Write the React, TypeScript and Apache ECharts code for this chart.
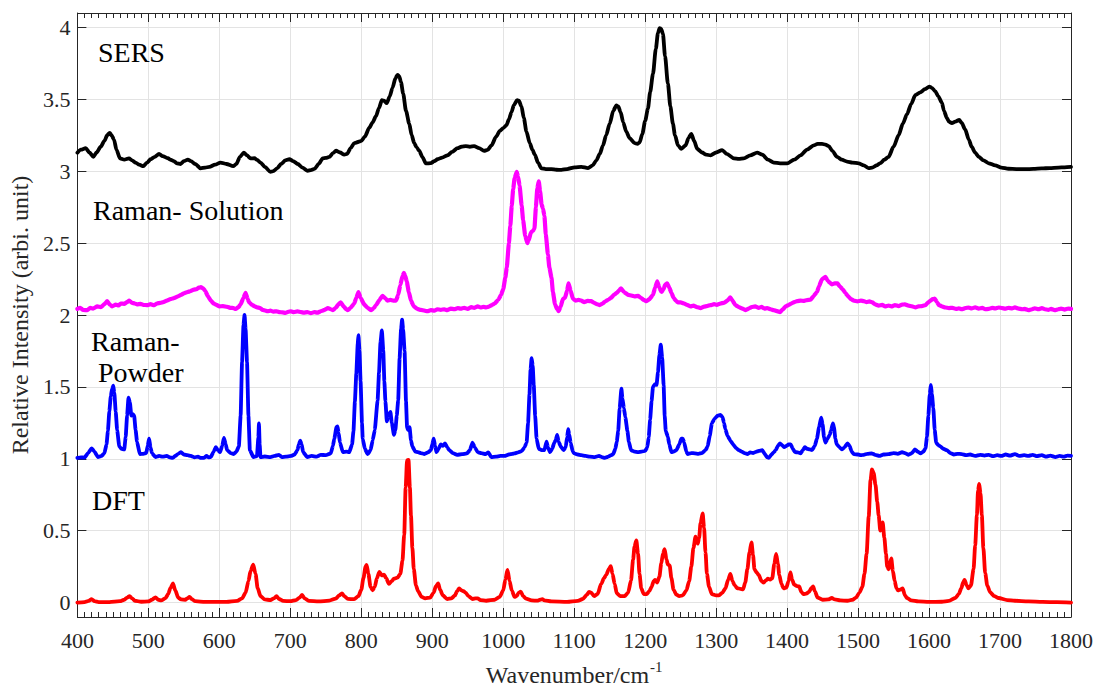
import React, { useEffect, useRef } from "react";
import * as echarts from "echarts";

// ---------- data (wavenumber, relative intensity) ----------
const sersPoints: [number, number][] = [
  [400,3.129],[405,3.15],[411.7,3.16],[417,3.13],[422.5,3.10],[427,3.13],[432.8,3.17],[438,3.21],[442,3.25],[445.5,3.267],[448,3.25],[451.6,3.22],[455,3.15],[460,3.089],[466,3.08],[472.7,3.089],[477,3.075],[482,3.06],[487,3.045],[492.9,3.035],[498,3.06],[503.2,3.083],[509,3.1],[515,3.12],[520,3.105],[527.6,3.09],[531,3.08],[536,3.07],[540,3.055],[545.4,3.05],[550,3.07],[555.7,3.08],[560,3.07],[566,3.05],[573.5,3.02],[580,3.025],[586,3.03],[594,3.045],[601.7,3.06],[610,3.05],[619.5,3.035],[624,3.05],[629,3.1],[634.5,3.129],[639,3.11],[644,3.089],[649.5,3.09],[653.3,3.078],[658,3.06],[664,3.03],[672,2.995],[676,3.0],[681.4,3.02],[687,3.05],[693,3.075],[698.7,3.083],[704,3.07],[710.5,3.05],[717,3.025],[724.5,3.003],[729,3.008],[734,3.016],[740,3.05],[745.6,3.089],[750,3.092],[755,3.10],[760,3.125],[764.4,3.142],[770,3.13],[776,3.115],[780,3.12],[785,3.16],[790,3.195],[799.6,3.209],[805,3.24],[811.3,3.302],[816,3.34],[820.7,3.382],[825,3.44],[829,3.494],[832,3.49],[836,3.473],[840,3.52],[844,3.58],[848,3.645],[851,3.67],[853.5,3.66],[855.9,3.62],[859,3.54],[863,3.42],[867.6,3.33],[871,3.25],[874.6,3.195],[878,3.165],[881.6,3.142],[886,3.1],[891,3.054],[898,3.056],[903,3.07],[907.4,3.083],[914,3.095],[921.5,3.11],[928,3.135],[935.6,3.16],[941,3.17],[947.3,3.174],[953,3.17],[959,3.174],[966,3.16],[973,3.142],[978,3.148],[983.5,3.18],[990,3.24],[995.2,3.28],[1000,3.3],[1004.6,3.32],[1008,3.36],[1011.6,3.41],[1015,3.46],[1019.6,3.494],[1022,3.49],[1025.7,3.45],[1029,3.37],[1032.7,3.275],[1037.4,3.195],[1041,3.15],[1044.5,3.115],[1049,3.06],[1053.8,3.02],[1060,3.015],[1067.9,3.014],[1075,3.01],[1082,3.009],[1090,3.015],[1100.7,3.027],[1110,3.03],[1119.5,3.022],[1126,3.04],[1131.2,3.075],[1136,3.12],[1140.6,3.18],[1145,3.25],[1150,3.33],[1155,3.42],[1159.4,3.457],[1162,3.45],[1165.5,3.41],[1169,3.34],[1173.4,3.275],[1178,3.23],[1185.2,3.195],[1189,3.19],[1192.2,3.20],[1196,3.26],[1200,3.35],[1203.9,3.435],[1207,3.55],[1211,3.676],[1215,3.85],[1218,3.96],[1220.3,3.995],[1222.5,3.99],[1225,3.956],[1228,3.8],[1232,3.61],[1235.5,3.45],[1239.1,3.33],[1242,3.25],[1246.2,3.18],[1251,3.155],[1257,3.18],[1261,3.23],[1265,3.26],[1269,3.21],[1273.4,3.155],[1280,3.13],[1286,3.115],[1292.1,3.11],[1300,3.13],[1308.5,3.147],[1315,3.12],[1325,3.089],[1332,3.085],[1339,3.089],[1348,3.11],[1357.8,3.129],[1365,3.115],[1373,3.08],[1381.2,3.06],[1390,3.055],[1400,3.054],[1410,3.08],[1418.8,3.11],[1428,3.15],[1437.5,3.18],[1443,3.19],[1449.2,3.19],[1454,3.185],[1458.6,3.174],[1464,3.14],[1470.3,3.10],[1477,3.08],[1484.4,3.067],[1492,3.06],[1500.8,3.054],[1508,3.04],[1514.9,3.022],[1520,3.025],[1526,3.04],[1531.3,3.056],[1537,3.08],[1543,3.10],[1550,3.17],[1557.1,3.25],[1563,3.33],[1568.9,3.396],[1575,3.47],[1580.6,3.529],[1587.6,3.548],[1594,3.57],[1600.3,3.588],[1604,3.58],[1608.7,3.556],[1613,3.52],[1618.1,3.476],[1621,3.42],[1625.1,3.37],[1628,3.345],[1632.2,3.334],[1637,3.345],[1642.5,3.356],[1646,3.335],[1650.9,3.29],[1656,3.22],[1660,3.17],[1665,3.129],[1670,3.1],[1676.7,3.075],[1684,3.055],[1693.2,3.04],[1702,3.025],[1711.9,3.017],[1723,3.015],[1735.4,3.014],[1747,3.016],[1758.8,3.019],[1770,3.022],[1782.3,3.025],[1791,3.027],[1800,3.03],
];

const solutionPoints: [number, number][] = [
  [400,2.042],[404,2.05],[408,2.035],[414,2.034],[418,2.05],[422,2.045],[428,2.06],[433,2.055],[438,2.075],[442,2.096],[446,2.07],[449,2.06],[454,2.072],[458,2.066],[461,2.08],[466,2.078],[470,2.09],[473,2.1],[477,2.085],[481,2.08],[484,2.074],[489,2.078],[493,2.07],[498,2.069],[503,2.075],[508,2.068],[512,2.08],[517,2.085],[521,2.09],[526,2.1],[531,2.11],[536,2.118],[541,2.128],[546,2.14],[550,2.15],[555,2.16],[559,2.165],[564,2.176],[568,2.18],[571,2.19],[574,2.194],[577,2.185],[580,2.168],[584,2.13],[588,2.1],[592,2.08],[596,2.07],[600,2.06],[605,2.062],[611,2.056],[616,2.05],[620,2.048],[623,2.042],[627,2.055],[630,2.074],[634,2.12],[637,2.154],[640,2.11],[642,2.088],[646,2.07],[650,2.06],[653,2.053],[657,2.05],[661,2.035],[665,2.03],[668,2.026],[672,2.03],[676,2.024],[681,2.026],[685,2.02],[689,2.018],[693,2.015],[697,2.022],[701,2.026],[705,2.02],[710,2.025],[715,2.02],[719,2.016],[724,2.02],[729,2.013],[734,2.02],[738,2.016],[743,2.026],[748,2.035],[753,2.048],[757,2.04],[760,2.034],[764,2.05],[768,2.075],[771,2.088],[775,2.06],[779,2.04],[781,2.034],[785,2.05],[790,2.08],[793,2.12],[796,2.16],[799,2.12],[804,2.074],[809,2.05],[814,2.034],[818,2.05],[821,2.069],[825,2.1],[830,2.133],[834,2.115],[837,2.1],[841,2.105],[845,2.1],[849,2.1],[852,2.14],[855,2.208],[858,2.27],[860,2.293],[862,2.27],[864,2.234],[867,2.16],[870,2.1],[874,2.06],[879,2.042],[884,2.035],[889,2.03],[893,2.026],[898,2.034],[903,2.03],[907,2.04],[912,2.036],[917,2.04],[921,2.034],[926,2.045],[931,2.04],[936,2.048],[940,2.044],[945,2.05],[950,2.042],[955,2.055],[959,2.05],[964,2.06],[968,2.052],[972,2.056],[976,2.053],[980,2.058],[984,2.069],[988,2.08],[993,2.106],[997,2.14],[1000,2.18],[1003,2.26],[1005,2.33],[1008,2.5],[1010,2.62],[1012,2.76],[1014,2.875],[1016,2.95],[1019,2.995],[1021,2.96],[1023,2.9],[1026,2.76],[1028,2.66],[1031,2.55],[1034,2.5],[1036,2.52],[1039,2.575],[1042,2.585],[1044,2.6],[1046,2.75],[1048,2.88],[1050,2.93],[1052,2.86],[1054,2.77],[1056,2.74],[1058,2.69],[1060,2.56],[1063,2.42],[1065,2.33],[1068,2.26],[1070,2.16],[1073,2.074],[1076,2.04],[1078,2.026],[1081,2.06],[1084,2.11],[1087,2.12],[1090,2.17],[1092,2.22],[1095,2.17],[1098,2.114],[1102,2.1],[1106,2.105],[1110,2.1],[1114,2.09],[1119,2.098],[1124,2.096],[1128,2.085],[1132,2.075],[1136,2.069],[1140,2.08],[1144,2.095],[1148,2.106],[1152,2.12],[1156,2.14],[1160,2.154],[1163,2.17],[1166,2.186],[1170,2.16],[1173,2.15],[1176,2.14],[1181,2.135],[1185,2.13],[1190,2.133],[1194,2.12],[1198,2.105],[1202,2.096],[1206,2.11],[1211,2.14],[1214,2.19],[1217,2.234],[1220,2.19],[1223,2.16],[1226,2.18],[1228,2.21],[1231,2.22],[1234,2.19],[1237,2.154],[1240,2.12],[1243,2.1],[1246,2.088],[1250,2.088],[1255,2.08],[1259,2.07],[1264,2.06],[1268,2.066],[1273,2.055],[1278,2.048],[1283,2.058],[1287,2.062],[1292,2.069],[1297,2.075],[1301,2.07],[1306,2.08],[1311,2.085],[1316,2.1],[1320,2.122],[1323,2.1],[1327,2.069],[1332,2.055],[1337,2.045],[1341,2.034],[1346,2.045],[1350,2.055],[1355,2.06],[1360,2.05],[1364,2.056],[1368,2.045],[1372,2.048],[1377,2.04],[1381,2.034],[1385,2.028],[1390,2.02],[1394,2.04],[1398,2.06],[1402,2.069],[1406,2.08],[1410,2.09],[1414,2.096],[1419,2.1],[1423,2.098],[1428,2.104],[1433,2.106],[1437,2.13],[1442,2.16],[1445,2.2],[1449,2.248],[1454,2.266],[1457,2.24],[1460,2.225],[1463,2.213],[1467,2.22],[1471,2.22],[1474,2.2],[1478,2.18],[1482,2.154],[1486,2.13],[1490,2.11],[1494,2.1],[1499,2.095],[1504,2.1],[1508,2.096],[1512,2.09],[1516,2.095],[1520,2.088],[1524,2.074],[1529,2.065],[1534,2.07],[1538,2.06],[1543,2.066],[1548,2.06],[1552,2.069],[1557,2.062],[1562,2.072],[1566,2.074],[1571,2.065],[1576,2.06],[1581,2.053],[1585,2.06],[1590,2.062],[1595,2.069],[1598,2.085],[1602,2.1],[1605,2.11],[1608,2.114],[1611,2.09],[1614,2.069],[1618,2.06],[1623,2.052],[1628,2.048],[1633,2.05],[1638,2.042],[1642,2.046],[1646,2.04],[1651,2.048],[1656,2.052],[1660,2.046],[1665,2.053],[1670,2.045],[1675,2.05],[1679,2.04],[1684,2.042],[1689,2.05],[1693,2.046],[1698,2.052],[1703,2.048],[1707,2.044],[1712,2.05],[1717,2.046],[1721,2.053],[1726,2.045],[1731,2.04],[1735,2.042],[1740,2.034],[1745,2.04],[1749,2.046],[1754,2.04],[1759,2.048],[1763,2.04],[1768,2.036],[1772,2.042],[1777,2.034],[1782,2.04],[1786,2.045],[1791,2.038],[1796,2.044],[1800,2.042],
];

const powderPoints: [number, number][] = [
  [400,1.006],[405,1.01],[410,1.008],[415,1.04],[420,1.073],[424,1.05],[429,1.012],[434,1.02],[438,1.038],[441,1.1],[443,1.193],[445,1.33],[447,1.434],[449,1.49],[450.5,1.508],[452,1.46],[454,1.327],[456,1.2],[459,1.086],[462,1.07],[466,1.065],[468,1.15],[470,1.3],[472,1.426],[474,1.39],[476,1.3],[478,1.31],[480,1.3],[482,1.2],[484,1.12],[488,1.033],[493,1.035],[497,1.04],[499,1.09],[501,1.14],[503,1.08],[505,1.04],[510,1.012],[515,1.02],[520,1.015],[526,1.02],[530,1.01],[534,1.006],[538,1.02],[542,1.035],[546,1.046],[550,1.03],[555,1.025],[560,1.02],[565,1.01],[570,1.015],[574,1.006],[578,1.006],[582,1.02],[585,1.01],[588,1.012],[592,1.05],[595,1.081],[598,1.06],[601,1.046],[604,1.09],[606.5,1.145],[609,1.1],[611,1.06],[616,1.04],[620,1.033],[624,1.05],[627.5,1.086],[630,1.3],[632,1.674],[634,1.93],[635.5,2.0],[637,1.9],[639,1.674],[641,1.3],[643,1.06],[648,1.012],[653,1.02],[655,1.15],[655.8,1.247],[656.8,1.1],[658,1.012],[664,1.016],[672,1.012],[678,1.02],[684,1.028],[688,1.012],[694,1.015],[701,1.02],[706,1.03],[710,1.06],[712,1.1],[714,1.127],[716,1.1],[718,1.046],[724,1.012],[730,1.02],[737,1.015],[743,1.028],[750,1.025],[757,1.038],[760,1.09],[762,1.14],[765,1.22],[766.5,1.225],[768,1.18],[770,1.113],[774,1.046],[779,1.05],[783,1.046],[787,1.1],[789,1.193],[791,1.4],[793,1.594],[795,1.8],[796,1.86],[797.5,1.75],[799,1.54],[801,1.25],[802,1.14],[805,1.07],[809,1.033],[813,1.06],[816,1.127],[819,1.2],[823,1.407],[825,1.6],[827,1.807],[829,1.893],[831,1.75],[832.5,1.54],[834,1.4],[836,1.26],[838,1.3],[841,1.327],[843,1.25],[846,1.167],[848,1.2],[850,1.3],[852,1.407],[854,1.7],[856,1.9],[857.5,1.967],[859,1.9],[861,1.75],[863,1.4],[864.5,1.22],[866,1.2],[868,1.22],[870,1.13],[872,1.086],[876,1.05],[880,1.046],[884,1.04],[889,1.033],[894,1.045],[898,1.06],[900,1.1],[902,1.14],[904,1.09],[906,1.046],[909,1.07],[912,1.1],[915,1.09],[918,1.108],[921,1.08],[924,1.06],[929,1.04],[935,1.028],[942,1.032],[949,1.038],[953,1.06],[956.7,1.113],[960,1.08],[964,1.046],[969,1.04],[975,1.033],[979,1.045],[983,1.012],[990,1.015],[996,1.02],[1002,1.02],[1008,1.03],[1013,1.035],[1016,1.038],[1021,1.045],[1026,1.054],[1030,1.08],[1033,1.113],[1035,1.25],[1037,1.45],[1038.5,1.62],[1040,1.70],[1041.5,1.65],[1043,1.514],[1045,1.3],[1047,1.14],[1050,1.07],[1054,1.06],[1058,1.06],[1061,1.119],[1063,1.08],[1066,1.046],[1069,1.07],[1072,1.113],[1074,1.13],[1076,1.167],[1078,1.12],[1081,1.086],[1085,1.06],[1088,1.08],[1090,1.15],[1091.5,1.207],[1093,1.17],[1095,1.113],[1098,1.05],[1100,1.038],[1105,1.03],[1110,1.025],[1116,1.02],[1122,1.015],[1129,1.012],[1135,1.02],[1140,1.01],[1143,1.006],[1148,1.015],[1152,1.025],[1155,1.033],[1158,1.07],[1160,1.12],[1162,1.193],[1164,1.35],[1166.5,1.487],[1168,1.42],[1170,1.353],[1172,1.29],[1175,1.193],[1177,1.12],[1180,1.06],[1185,1.05],[1190,1.046],[1195,1.05],[1200,1.055],[1203,1.08],[1205,1.15],[1207,1.273],[1209,1.4],[1211,1.5],[1214,1.52],[1216,1.514],[1218,1.6],[1220,1.72],[1222,1.794],[1224,1.7],[1226,1.514],[1227.5,1.3],[1229,1.193],[1232,1.153],[1234,1.1],[1237,1.046],[1240,1.05],[1244,1.06],[1248,1.1],[1251,1.14],[1253,1.14],[1255,1.113],[1258,1.05],[1260,1.033],[1265,1.04],[1270,1.038],[1275,1.035],[1280,1.04],[1285,1.06],[1288,1.086],[1291,1.16],[1294,1.247],[1298,1.28],[1302,1.30],[1306,1.305],[1309,1.29],[1311,1.25],[1313,1.207],[1316,1.16],[1320,1.127],[1324,1.1],[1328,1.075],[1332,1.06],[1336,1.05],[1340,1.04],[1344,1.033],[1348,1.045],[1352,1.04],[1355,1.046],[1360,1.055],[1365,1.06],[1369,1.03],[1372,1.01],[1374,1.006],[1378,1.03],[1381,1.045],[1384,1.06],[1387,1.09],[1390,1.108],[1393,1.095],[1396,1.081],[1399,1.09],[1402,1.1],[1405,1.1],[1408,1.07],[1411,1.046],[1415,1.045],[1419,1.038],[1422,1.06],[1425,1.081],[1428,1.07],[1432,1.065],[1435,1.06],[1439,1.09],[1442,1.14],[1445,1.22],[1448,1.287],[1450,1.24],[1452,1.15],[1454,1.113],[1457,1.14],[1460,1.167],[1462,1.2],[1464.5,1.247],[1466,1.22],[1468,1.14],[1470,1.1],[1474,1.08],[1477,1.065],[1481,1.08],[1485,1.108],[1488,1.09],[1491,1.05],[1494,1.033],[1500,1.03],[1504,1.025],[1508,1.028],[1513,1.035],[1519,1.038],[1524,1.028],[1530,1.02],[1536,1.03],[1543,1.033],[1550,1.04],[1556,1.035],[1562,1.046],[1567,1.038],[1571,1.028],[1576,1.04],[1580,1.065],[1584,1.05],[1588,1.038],[1592,1.05],[1595,1.073],[1597,1.15],[1599,1.3],[1601,1.45],[1602.5,1.514],[1604,1.45],[1606,1.353],[1608,1.2],[1610,1.113],[1613,1.095],[1616,1.086],[1620,1.07],[1625,1.06],[1630,1.04],[1635,1.03],[1640,1.035],[1646,1.033],[1652,1.025],[1658,1.03],[1665,1.02],[1672,1.028],[1678,1.022],[1684,1.028],[1690,1.018],[1696,1.025],[1702,1.02],[1708,1.03],[1714,1.022],[1721,1.033],[1727,1.02],[1734,1.025],[1740,1.02],[1746,1.028],[1752,1.018],[1759,1.025],[1765,1.015],[1771,1.022],[1778,1.012],[1784,1.02],[1790,1.015],[1795,1.022],[1800,1.02],
];

const dftPoints: [number, number][] = [
  [400,0],[410,0.004],[416,0.012],[420,0.024],[424,0.01],[430,0.004],[445,0.004],[460,0.01],[466,0.02],[470,0.035],[473.6,0.045],[477,0.03],[481,0.013],[490,0.006],[500,0.008],[505,0.02],[510,0.037],[514,0.02],[518,0.015],[524,0.03],[528,0.06],[531,0.1],[534.6,0.133],[538,0.085],[542,0.035],[546,0.022],[552,0.02],[555,0.03],[558,0.04],[561,0.025],[566,0.01],[580,0.005],[610,0.005],[625,0.012],[632,0.03],[637,0.07],[641,0.15],[644,0.22],[647.7,0.264],[651,0.2],[654,0.1],[658,0.045],[664,0.022],[672,0.018],[677,0.03],[680.5,0.045],[684,0.025],[690,0.012],[700,0.01],[708,0.018],[713,0.035],[716.6,0.053],[720,0.03],[726,0.012],[740,0.008],[755,0.014],[764,0.028],[769,0.05],[772.8,0.064],[776,0.045],[781,0.026],[790,0.024],[796,0.045],[800,0.09],[803,0.17],[806,0.25],[807.5,0.262],[810,0.2],[813,0.11],[816,0.085],[819,0.11],[822,0.17],[825.5,0.214],[829,0.19],[832,0.195],[835,0.17],[839,0.13],[843,0.15],[846,0.166],[851,0.174],[855,0.2],[858,0.29],[860.5,0.473],[862.5,0.8],[864.5,0.99],[866.5,0.993],[868.5,0.8],[870,0.606],[872,0.38],[874,0.232],[877,0.12],[880,0.08],[885,0.04],[890,0.03],[897,0.035],[902,0.07],[905,0.112],[908.4,0.133],[911,0.09],[915,0.05],[921,0.025],[927,0.03],[932,0.05],[935,0.08],[938,0.099],[941,0.085],[944,0.08],[947,0.07],[951,0.045],[957,0.025],[961,0.03],[964,0.03],[968,0.018],[976,0.013],[988,0.02],[995,0.04],[1000,0.085],[1003,0.16],[1006,0.227],[1009,0.15],[1012,0.085],[1016,0.04],[1019,0.045],[1022,0.07],[1024.8,0.077],[1028,0.045],[1032,0.028],[1040,0.015],[1048,0.014],[1052,0.02],[1055,0.024],[1058,0.015],[1068,0.008],[1090,0.005],[1105,0.012],[1112,0.025],[1118,0.055],[1121,0.075],[1124,0.07],[1128,0.045],[1133,0.06],[1138,0.13],[1142,0.17],[1145,0.192],[1149,0.235],[1151.5,0.254],[1154,0.2],[1157,0.13],[1160,0.065],[1165,0.045],[1171,0.045],[1176,0.07],[1180,0.152],[1183,0.3],[1185,0.39],[1187.5,0.432],[1190,0.34],[1192,0.2],[1194.5,0.099],[1198,0.06],[1202,0.059],[1206,0.08],[1209,0.11],[1212,0.15],[1214,0.158],[1217,0.14],[1220,0.18],[1222.7,0.272],[1225,0.34],[1227.4,0.371],[1230,0.3],[1232,0.265],[1234.4,0.259],[1237,0.17],[1240,0.09],[1244,0.055],[1248,0.045],[1253,0.05],[1258,0.085],[1262,0.15],[1265,0.25],[1268,0.38],[1271,0.459],[1274,0.41],[1276,0.45],[1278,0.553],[1281,0.62],[1283,0.52],[1285,0.35],[1287,0.2],[1290,0.11],[1294,0.059],[1300,0.05],[1304,0.051],[1309,0.07],[1313,0.099],[1317,0.16],[1320,0.2],[1323,0.15],[1326,0.12],[1330,0.1],[1334,0.096],[1338,0.093],[1341,0.14],[1344,0.232],[1347,0.35],[1349.8,0.419],[1352,0.33],[1354,0.232],[1357,0.21],[1360,0.192],[1364,0.15],[1367,0.139],[1370,0.155],[1373,0.166],[1376,0.16],[1379,0.17],[1382,0.27],[1384.5,0.339],[1387,0.27],[1389,0.192],[1392,0.13],[1395,0.099],[1399,0.105],[1402,0.15],[1404.7,0.211],[1407,0.16],[1410,0.125],[1414,0.115],[1417,0.112],[1420,0.075],[1423,0.059],[1427,0.062],[1431,0.075],[1434,0.1],[1436.6,0.112],[1439,0.08],[1443,0.035],[1450,0.02],[1458,0.022],[1463,0.032],[1467,0.022],[1475,0.015],[1485,0.013],[1492,0.02],[1497,0.035],[1502,0.07],[1506,0.11],[1509,0.2],[1512,0.34],[1515,0.6],[1517.5,0.85],[1519.6,0.926],[1522,0.9],[1524.5,0.82],[1527,0.7],[1529,0.606],[1531.3,0.5],[1534.6,0.558],[1537,0.45],[1539.3,0.339],[1541,0.25],[1543,0.232],[1546.8,0.307],[1549,0.22],[1551.5,0.152],[1554,0.1],[1556.2,0.085],[1559,0.09],[1562.8,0.099],[1566,0.05],[1569,0.032],[1575,0.015],[1585,0.008],[1600,0.005],[1618,0.006],[1628,0.012],[1637,0.032],[1642,0.06],[1645.3,0.099],[1648,0.14],[1650,0.158],[1653,0.12],[1655.6,0.099],[1659,0.12],[1662.7,0.232],[1665,0.4],[1667.4,0.606],[1669,0.78],[1670.6,0.825],[1672.5,0.76],[1674.4,0.606],[1676.5,0.38],[1679.1,0.205],[1682,0.12],[1686,0.072],[1692,0.045],[1698,0.032],[1710,0.018],[1721,0.013],[1740,0.008],[1760,0.005],[1780,0.003],[1800,0],
];

const yTickValues = [0, 0.5, 1, 1.5, 2, 2.5, 3, 3.5, 4];
const seriesNames = ["SERS", "Raman- Solution", "Raman- Powder", "DFT"];
const seriesColors = ["#000000", "#ff00ff", "#0000ff", "#ff0000"];
const seriesWidths = [3.8, 4.2, 3.8, 3.8];

export default function App() {
  const ref = useRef<HTMLDivElement>(null);
  useEffect(() => {
    const chart = echarts.init(ref.current!, null, { renderer: "svg" });
    const font = "'Liberation Serif', 'Times New Roman', serif";
    const axisColor = "#262626";
    const gridColor = "#e3e3e3";
    const tickLine = { color: axisColor, width: 1 };
    const datasets = [sersPoints, solutionPoints, powderPoints, dftPoints];
    const annotation = (text: string, x: number, y: number) => ({
      type: "text",
      x,
      y,
      z: 100,
      style: { text, fontFamily: font, fontSize: 28, fill: "#000", align: "left", verticalAlign: "middle" },
    });
    chart.setOption({
      animation: false,
      backgroundColor: "#ffffff",
      grid: { left: 76, right: 27, top: 13, bottom: 68, containLabel: false },
      xAxis: [
        {
          type: "value",
          position: "bottom",
          min: 400,
          max: 1800,
          interval: 100,
          axisLine: { show: true, onZero: false, lineStyle: tickLine },
          axisTick: { show: true, inside: true, length: 9, lineStyle: tickLine },
          minorTick: { show: true, splitNumber: 10, length: 5, lineStyle: tickLine },
          axisLabel: {
            margin: 12,
            fontSize: 22,
            fontFamily: font,
            color: axisColor,
            formatter: (v: number) => String(v),
          },
          splitLine: { show: true, lineStyle: { color: gridColor, width: 1 } },
          name: "{a|Wavenumber/cm}{b|-1}",
          nameLocation: "middle",
          nameGap: 42,
          nameTextStyle: {
            fontFamily: font,
            color: axisColor,
            rich: {
              a: { fontFamily: font, fontSize: 24, color: axisColor, lineHeight: 28, verticalAlign: "bottom" },
              b: { fontFamily: font, fontSize: 15, color: axisColor, lineHeight: 28, verticalAlign: "top", padding: [0, 0, 0, 1] },
            },
          },
        },
        {
          type: "value",
          position: "top",
          min: 400,
          max: 1800,
          interval: 100,
          axisLine: { show: true, onZero: false, lineStyle: tickLine },
          axisTick: { show: true, inside: true, length: 9, lineStyle: tickLine },
          minorTick: { show: true, splitNumber: 10, length: 5, lineStyle: tickLine },
          axisLabel: { show: false },
          splitLine: { show: false },
        },
      ],
      yAxis: [
        {
          type: "value",
          position: "left",
          min: -0.1,
          max: 4.1,
          axisLine: { show: true, onZero: false, lineStyle: tickLine },
          axisTick: { show: true, inside: true, length: 9, lineStyle: tickLine, customValues: yTickValues },
          axisLabel: { margin: 7, fontSize: 22, fontFamily: font, color: axisColor, customValues: yTickValues },
          splitLine: { show: true, lineStyle: { color: gridColor, width: 1 } },
          name: "Relative Intensity (arbi. unit)",
          nameLocation: "middle",
          nameGap: 42,
          nameTextStyle: { fontFamily: font, fontSize: 24, color: axisColor },
        },
        {
          type: "value",
          position: "right",
          min: -0.1,
          max: 4.1,
          axisLine: { show: true, onZero: false, lineStyle: tickLine },
          axisTick: { show: true, inside: true, length: 9, lineStyle: tickLine, customValues: yTickValues },
          axisLabel: { show: false, customValues: yTickValues },
          splitLine: { show: false },
        },
      ],
      series: datasets.map((pts, i) => ({
        name: seriesNames[i],
        type: "line",
        xAxisIndex: 0,
        yAxisIndex: 0,
        data: pts,
        showSymbol: false,
        symbol: "none",
        smooth: i === 0 || i === 3 ? 0.25 : 0.15,
        smoothMonotone: "x",
        lineStyle: { color: seriesColors[i], width: seriesWidths[i], join: "round", cap: "round" },
        itemStyle: { color: seriesColors[i] },
        z: 3 + i,
      })),
      graphic: [
        annotation("SERS", 98, 52),
        annotation("Raman- Solution", 93, 210),
        annotation("Raman-", 91, 341),
        annotation("Powder", 98, 372),
        annotation("DFT", 92, 500),
      ],
    });
    return () => chart.dispose();
  }, []);
  return (
    <div
      ref={ref}
      style={{ position: "fixed", left: 0, top: 0, width: 1098, height: 692, background: "#fff" }}
    />
  );
}
